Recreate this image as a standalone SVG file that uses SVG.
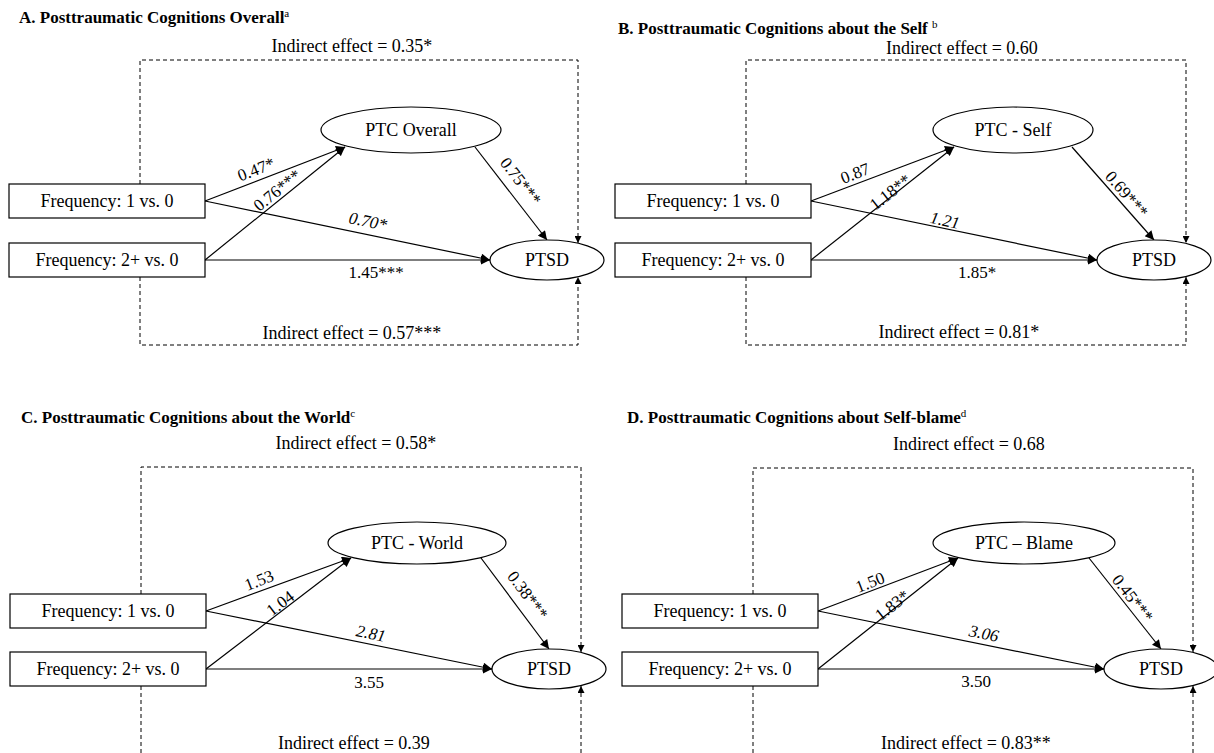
<svg xmlns="http://www.w3.org/2000/svg" width="1214" height="753" viewBox="0 0 1214 753">
<style>
text{font-family:"Liberation Serif","Times New Roman",serif;fill:#000}
.title{font-size:17px;font-weight:bold}
.sup{font-size:11px;font-weight:normal}
.t{font-size:18px;text-anchor:middle}
.lab{font-size:17px;text-anchor:middle}
.it{font-style:italic}
.box{fill:#fff;stroke:#000;stroke-width:1.2}
.ell{fill:#fff;stroke:#000;stroke-width:1.2}
.ln{stroke:#000;stroke-width:1.2;fill:none}
.dash{stroke:#000;stroke-width:1;fill:none;stroke-dasharray:4 3}
</style>
<defs>
<marker id="ah" viewBox="0 0 10 10" refX="10" refY="5" markerWidth="11" markerHeight="9" orient="auto" markerUnits="userSpaceOnUse"><path d="M0,0 L10,5 L0,10 z" fill="#000"/></marker>
<marker id="ahs" viewBox="0 0 10 10" refX="10" refY="5" markerWidth="8" markerHeight="7" orient="auto" markerUnits="userSpaceOnUse"><path d="M0,0 L10,5 L0,10 z" fill="#000"/></marker>
</defs>
<rect width="1214" height="753" fill="#fff"/>

<!-- Panel A -->
<g id="panelA">
<text class="title" x="19" y="23">A. Posttraumatic Cognitions Overall<tspan class="sup" dy="-6">a</tspan></text>
<text class="t" x="352" y="52">Indirect effect = 0.35*</text>
<text class="t" x="352" y="339">Indirect effect = 0.57***</text>
<g id="A-connectors">
<path class="dash" d="M140,184 V60 H578 V243" marker-end="url(#ahs)"/>
<path class="dash" d="M140,277 V345 H578 V277" marker-end="url(#ahs)"/>
<line class="ln" x1="205" y1="201" x2="345" y2="147" marker-end="url(#ah)"/>
<line class="ln" x1="205" y1="260" x2="345" y2="147" marker-end="url(#ah)"/>
<line class="ln" x1="205" y1="201" x2="490" y2="260" marker-end="url(#ah)"/>
<line class="ln" x1="205" y1="260" x2="490" y2="260" marker-end="url(#ah)"/>
<line class="ln" x1="475" y1="147" x2="547" y2="240" marker-end="url(#ah)"/>
<text class="lab" x="256" y="175" transform="rotate(-21 256 169)">0.47*</text>
<text class="lab" x="277" y="196" transform="rotate(-39 277 190)">0.76***</text>
<text class="lab it" x="368" y="227" transform="rotate(11.7 368 221)">0.70*</text>
<text class="lab" x="376" y="278">1.45***</text>
<text class="lab" x="521" y="187" transform="rotate(52 521 181)">0.75***</text>
</g>
<g id="A-freq1"><rect class="box" x="9" y="184" width="196" height="34"/><text class="t" x="107" y="207">Frequency: 1 vs. 0</text></g>
<g id="A-freq2"><rect class="box" x="9" y="243" width="196" height="34"/><text class="t" x="107" y="266">Frequency: 2+ vs. 0</text></g>
<g id="A-ptc"><ellipse class="ell" cx="411" cy="130" rx="90" ry="23"/><text class="t" x="411" y="136">PTC Overall</text></g>
<g id="A-ptsd"><ellipse class="ell" cx="547" cy="260" rx="57" ry="20"/><text class="t" x="547" y="266">PTSD</text></g>
</g>

<!-- Panel B -->
<g id="panelB">
<text class="title" x="618" y="34">B. Posttraumatic Cognitions about the Self <tspan class="sup" dy="-6">b</tspan></text>
<text class="t" x="962" y="54">Indirect effect = 0.60</text>
<text class="t" x="959" y="338">Indirect effect = 0.81*</text>
<g id="B-connectors">
<path class="dash" d="M746,184 V60 H1186 V243" marker-end="url(#ahs)"/>
<path class="dash" d="M746,277 V345 H1186 V277" marker-end="url(#ahs)"/>
<line class="ln" x1="811" y1="201" x2="954" y2="147" marker-end="url(#ah)"/>
<line class="ln" x1="811" y1="260" x2="954" y2="147" marker-end="url(#ah)"/>
<line class="ln" x1="811" y1="201" x2="1097" y2="260" marker-end="url(#ah)"/>
<line class="ln" x1="811" y1="260" x2="1097" y2="260" marker-end="url(#ah)"/>
<line class="ln" x1="1072" y1="147" x2="1154" y2="240" marker-end="url(#ah)"/>
<text class="lab" x="855" y="179" transform="rotate(-21 855 173)">0.87</text>
<text class="lab" x="890" y="198" transform="rotate(-38 890 192)">1.18**</text>
<text class="lab it" x="945" y="226" transform="rotate(11.7 945 220)">1.21</text>
<text class="lab" x="977" y="278">1.85*</text>
<text class="lab" x="1127" y="200" transform="rotate(49 1127 194)">0.69***</text>
</g>
<g id="B-freq1"><rect class="box" x="615" y="184" width="196" height="34"/><text class="t" x="713" y="207">Frequency: 1 vs. 0</text></g>
<g id="B-freq2"><rect class="box" x="615" y="243" width="196" height="34"/><text class="t" x="713" y="266">Frequency: 2+ vs. 0</text></g>
<g id="B-ptc"><ellipse class="ell" cx="1013" cy="130" rx="80" ry="23"/><text class="t" x="1013" y="136">PTC - Self</text></g>
<g id="B-ptsd"><ellipse class="ell" cx="1154" cy="260" rx="57" ry="20"/><text class="t" x="1154" y="266">PTSD</text></g>
</g>

<!-- Panel C -->
<g id="panelC">
<text class="title" x="21" y="423">C. Posttraumatic Cognitions about the World<tspan class="sup" dy="-6">c</tspan></text>
<text class="t" x="356" y="449">Indirect effect = 0.58*</text>
<text class="t" x="354" y="749">Indirect effect = 0.39</text>
<g id="C-connectors">
<path class="dash" d="M141,594 V467 H581 V652" marker-end="url(#ahs)"/>
<path class="dash" d="M141,686 V790 H581 V686" marker-end="url(#ahs)"/>
<line class="ln" x1="206" y1="611" x2="351" y2="558" marker-end="url(#ah)"/>
<line class="ln" x1="206" y1="669" x2="351" y2="558" marker-end="url(#ah)"/>
<line class="ln" x1="206" y1="611" x2="492" y2="669" marker-end="url(#ah)"/>
<line class="ln" x1="206" y1="669" x2="492" y2="669" marker-end="url(#ah)"/>
<line class="ln" x1="481" y1="558" x2="549" y2="649" marker-end="url(#ah)"/>
<text class="lab" x="259" y="586" transform="rotate(-21 259 580)">1.53</text>
<text class="lab" x="280" y="609" transform="rotate(-37 280 603)">1.04</text>
<text class="lab it" x="371" y="639" transform="rotate(11.5 371 633)">2.81</text>
<text class="lab" x="369" y="688">3.55</text>
<text class="lab" x="528" y="601" transform="rotate(53 528 595)">0.38***</text>
</g>
<g id="C-freq1"><rect class="box" x="10" y="594" width="196" height="34"/><text class="t" x="108" y="617">Frequency: 1 vs. 0</text></g>
<g id="C-freq2"><rect class="box" x="10" y="652" width="196" height="34"/><text class="t" x="108" y="675">Frequency: 2+ vs. 0</text></g>
<g id="C-ptc"><ellipse class="ell" cx="417" cy="543" rx="89" ry="21"/><text class="t" x="417" y="549">PTC - World</text></g>
<g id="C-ptsd"><ellipse class="ell" cx="549" cy="669" rx="57" ry="20"/><text class="t" x="549" y="675">PTSD</text></g>
</g>

<!-- Panel D -->
<g id="panelD">
<text class="title" x="627" y="423">D. Posttraumatic Cognitions about Self-blame<tspan class="sup" dy="-6">d</tspan></text>
<text class="t" x="969" y="450">Indirect effect = 0.68</text>
<text class="t" x="966" y="749">Indirect effect = 0.83**</text>
<g id="D-connectors">
<path class="dash" d="M753,594 V468 H1193 V652" marker-end="url(#ahs)"/>
<path class="dash" d="M753,686 V790 H1193 V686" marker-end="url(#ahs)"/>
<line class="ln" x1="818" y1="611" x2="958" y2="558" marker-end="url(#ah)"/>
<line class="ln" x1="818" y1="669" x2="958" y2="558" marker-end="url(#ah)"/>
<line class="ln" x1="818" y1="611" x2="1104" y2="669" marker-end="url(#ah)"/>
<line class="ln" x1="818" y1="669" x2="1104" y2="669" marker-end="url(#ah)"/>
<line class="ln" x1="1089" y1="558" x2="1161" y2="649" marker-end="url(#ah)"/>
<text class="lab" x="870" y="588" transform="rotate(-21 870 582)">1.50</text>
<text class="lab" x="892" y="611" transform="rotate(-38 892 605)">1.83*</text>
<text class="lab it" x="984" y="639" transform="rotate(11.5 984 633)">3.06</text>
<text class="lab" x="976" y="687">3.50</text>
<text class="lab" x="1133" y="604" transform="rotate(52 1133 598)">0.45***</text>
</g>
<g id="D-freq1"><rect class="box" x="622" y="594" width="196" height="34"/><text class="t" x="720" y="617">Frequency: 1 vs. 0</text></g>
<g id="D-freq2"><rect class="box" x="622" y="652" width="196" height="34"/><text class="t" x="720" y="675">Frequency: 2+ vs. 0</text></g>
<g id="D-ptc"><ellipse class="ell" cx="1024" cy="543" rx="91" ry="21"/><text class="t" x="1024" y="549">PTC – Blame</text></g>
<g id="D-ptsd"><ellipse class="ell" cx="1161" cy="669" rx="57" ry="20"/><text class="t" x="1161" y="675">PTSD</text></g>
</g>
</svg>
